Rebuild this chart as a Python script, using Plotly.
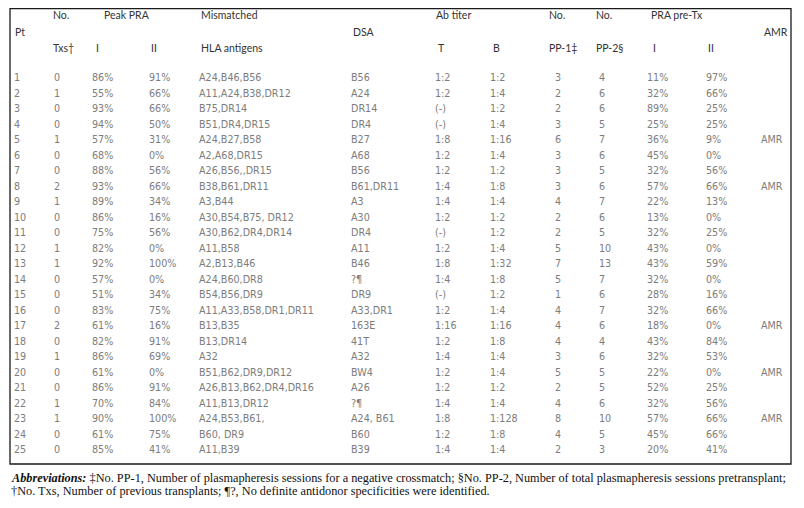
import plotly.graph_objects as go

pt = list(range(1, 26))
txs = [0, 1, 0, 0, 1, 0, 0, 2, 1, 0, 0, 1, 1, 0, 0, 0, 2, 0, 1, 0, 0, 1, 1, 0, 0]
peak_i = [86, 55, 93, 94, 57, 68, 88, 93, 89, 86, 75, 82, 92, 57, 51, 83, 61, 82, 86, 61, 86, 70, 90, 61, 85]
peak_ii = [91, 66, 66, 50, 31, 0, 56, 66, 34, 16, 56, 0, 100, 0, 34, 75, 16, 91, 69, 0, 91, 84, 100, 75, 41]
mismatched = ["A24,B46,B56", "A11,A24,B38,DR12", "B75,DR14", "B51,DR4,DR15", "A24,B27,B58",
              "A2,A68,DR15", "A26,B56,,DR15", "B38,B61,DR11", "A3,B44", "A30,B54,B75, DR12",
              "A30,B62,DR4,DR14", "A11,B58", "A2,B13,B46", "A24,B60,DR8", "B54,B56,DR9",
              "A11,A33,B58,DR1,DR11", "B13,B35", "B13,DR14", "A32", "B51,B62,DR9,DR12",
              "A26,B13,B62,DR4,DR16", "A11,B13,DR12", "A24,B53,B61,", "B60, DR9", "A11,B39"]
dsa = ["B56", "A24", "DR14", "DR4", "B27", "A68", "B56", "B61,DR11", "A3", "A30", "DR4", "A11",
       "B46", "?¶", "DR9", "A33,DR1", "163E", "41T", "A32", "BW4", "A26", "?¶", "A24, B61", "B60", "B39"]
t_titer = ["1:2", "1:2", "(-)", "(-)", "1:8", "1:2", "1:2", "1:4", "1:4", "1:2", "(-)", "1:2", "1:8",
           "1:4", "(-)", "1:2", "1:16", "1:2", "1:4", "1:2", "1:2", "1:4", "1:8", "1:2", "1:4"]
b_titer = ["1:2", "1:4", "1:2", "1:4", "1:16", "1:4", "1:2", "1:8", "1:4", "1:2", "1:2", "1:4", "1:32",
           "1:8", "1:2", "1:4", "1:16", "1:8", "1:4", "1:4", "1:2", "1:4", "1:128", "1:8", "1:4"]
pp1 = [3, 2, 2, 3, 6, 3, 3, 3, 4, 2, 2, 5, 7, 5, 1, 4, 4, 4, 3, 5, 2, 4, 8, 4, 2]
pp2 = [4, 6, 6, 5, 7, 6, 5, 6, 7, 6, 5, 10, 13, 7, 6, 7, 6, 4, 6, 5, 5, 6, 10, 5, 3]
pre_i = [11, 32, 89, 25, 36, 45, 32, 57, 22, 13, 32, 43, 43, 32, 28, 32, 18, 43, 32, 22, 52, 32, 57, 45, 20]
pre_ii = [97, 66, 25, 25, 9, 0, 56, 66, 13, 0, 25, 0, 59, 0, 16, 66, 0, 84, 53, 0, 25, 56, 66, 66, 41]
amr = ["", "", "", "", "AMR", "", "", "AMR", "", "", "", "", "", "", "", "", "AMR", "", "", "AMR",
       "", "", "AMR", "", ""]

pct = lambda v: [f"{x}%" for x in v]

# column text and its left x (pixels)
columns = [
    (14, [str(p) for p in pt]),
    (54, [str(t) for t in txs]),
    (92, pct(peak_i)),
    (149, pct(peak_ii)),
    (199, mismatched),
    (351, dsa),
    (435, t_titer),
    (490, b_titer),
    (555, [str(v) for v in pp1]),
    (599, [str(v) for v in pp2]),
    (647, pct(pre_i)),
    (706, pct(pre_ii)),
    (761, amr),
]

# header lines: (x, row-position, text)
h1, h2, h3 = -3.13, -2.03, -1.0
headers = [
    (51, h1, "No."), (102, h1, "Peak PRA"), (199, h1, "Mismatched"),
    (434, h1, "Ab titer"), (547, h1, "No."), (594, h1, "No."), (649, h1, "PRA pre-Tx"),
    (13, h2, "Pt"), (351, h2, "DSA"), (762, h2, "AMR"),
    (51, h3, "Txs†"), (94, h3, "I"), (149, h3, "II"), (199, h3, "HLA antigens"),
    (436, h3, "T"), (491, h3, "B"), (547, h3, "PP-1‡"), (594, h3, "PP-2§"),
    (651, h3, "I"), (706, h3, "II"),
]

body_font = dict(family="DejaVu Sans", size=9.6, color="#7c7c7c")
head_font = dict(family="Lato", size=10.5, color="#333333")

fig = go.Figure()
for x0, texts in columns:
    fig.add_trace(go.Scatter(
        x=[x0] * len(pt), y=pt, text=texts, mode="text",
        textposition="middle right", textfont=body_font,
        hoverinfo="skip", showlegend=False))

for hx, hy, ht in headers:
    fig.add_annotation(x=hx, y=hy, text=ht, xanchor="left", yanchor="middle",
                       showarrow=False, font=head_font)

# table frame (page is offset 8px by the body margin)
fig.add_shape(type="rect", xref="x", yref="paper", x0=10, x1=791, y0=1 - 456 / 508, y1=0.999,
              line=dict(color="#1a1a1a", width=1.3), fillcolor="rgba(0,0,0,0)")

note1 = ("<b><i>Abbreviations:</i></b> ‡No. PP-1, Number of plasmapheresis sessions for a negative crossmatch; "
         "§No. PP-2, Number of total plasmapheresis sessions pretransplant;")
note2 = "†No. Txs, Number of previous transplants; ¶?, No definite antidonor specificities were identified."
for ny, nt in [(478, note1), (491, note2)]:
    fig.add_annotation(xref="x", yref="paper", x=9, y=1 - (ny - 8) / 508, text=nt,
                       xanchor="left", yanchor="middle", showarrow=False,
                       font=dict(family="Liberation Serif", size=12.3, color="#111111"))

fig.update_layout(
    width=804, height=508, margin=dict(l=0, r=0, t=0, b=0),
    paper_bgcolor="white", plot_bgcolor="white",
    xaxis=dict(range=[8, 812], visible=False, fixedrange=True),
    yaxis=dict(range=[29.194, -3.581], visible=False, fixedrange=True),
)

fig.write_html("out.html")
